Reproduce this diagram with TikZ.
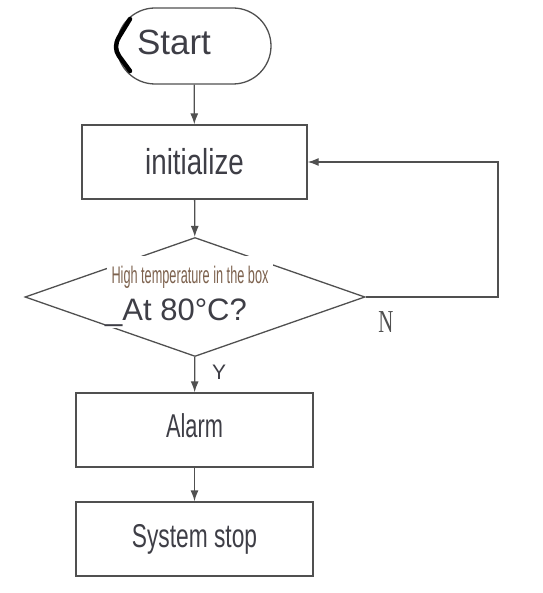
\documentclass[tikz,border=0pt]{standalone}
\usepackage{fontspec}
\usepackage{graphicx}
\setmainfont{Liberation Sans}
\newfontfamily\timesfont{Liberation Serif}
\usetikzlibrary{shapes.geometric,shapes.misc,arrows.meta}
\definecolor{linegray}{RGB}{80,80,80}
\definecolor{textgray}{RGB}{62,62,70}
\definecolor{textbrown}{RGB}{125,98,78}
\newcommand{\fsize}[1]{\fontsize{#1}{#1}\selectfont}
\newcommand{\squeeze}[2]{\scalebox{#1}[1]{#2}}
\tikzset{
  flow/.style={
    line width=1.3pt,
    draw=linegray
  },
  flow-start/.style={flow, rounded rectangle, minimum width=154pt, minimum height=76pt, inner sep=0pt},
  flow-box/.style={flow, rectangle, minimum height=74pt, inner sep=0pt, text=textgray},
  flow-cond/.style={flow, diamond, minimum width=340pt, minimum height=119pt, inner sep=0pt},
  flow-arrow/.style={flow, -{Latex[length=11pt,width=8pt]}},
  cover/.style={fill=white, inner sep=0pt},
  pen/.style={line width=4.5pt, line cap=round, line join=round, draw=black}
}

\begin{document}
\begin{tikzpicture}[x=1pt, y=-1pt]
  \useasboundingbox (0,0) rectangle (542,593);

  \node[flow-start] (start) at (194,46) {};
  \node[text=textgray, font=\fsize{35}] (start-text) at (174,42.5) {Start};
  \draw[pen] (130,19) -- (119,37) .. controls (115,44) and (115,50) .. (119,56) -- (130,71);

  \node[flow-box, minimum width=225pt, font=\fsize{36}] (init) at (194.5,162) {\squeeze{0.77}{initialize}};

  \node[flow-cond] (cond) at (195,297) {};
  % white boxes over the diamond outline
  \node[cover, minimum width=166pt, minimum height=44pt, text=textbrown, font=\fsize{24}] (cond-top) at (190,277.5) {\squeeze{0.53}{High temperature in the box}};
  \node[cover, inner ysep=2pt, anchor=base west, text=textgray, font=\fsize{31}] (cond-bottom) at (105,320) {\_At 80°C?};

  \node[flow-box, minimum width=237pt, text depth=9pt, font=\fsize{33}] (alarm) at (194.5,430) {\squeeze{0.66}{Alarm}};
  \node[flow-box, minimum width=237pt, font=\fsize{33}] (stop) at (194.5,539) {\squeeze{0.69}{System stop}};

  \node[text=textgray, font=\fsize{21}] (yes) at (219,372) {Y};
  \node[text=linegray, font=\timesfont\fsize{32}] (no) at (386,322.5) {\squeeze{0.65}{N}};

  \draw[flow-arrow] (start) -- (init);
  \draw[flow-arrow] (init) -- (cond);
  \draw[flow-arrow] (cond) -- (alarm);
  \draw[flow-arrow] (alarm) -- (stop);
  \coordinate (loop-corner) at (498,300);
  \draw[flow-arrow] (cond.east) -- (cond.east -| loop-corner) |- (init.east);
\end{tikzpicture}
\end{document}
